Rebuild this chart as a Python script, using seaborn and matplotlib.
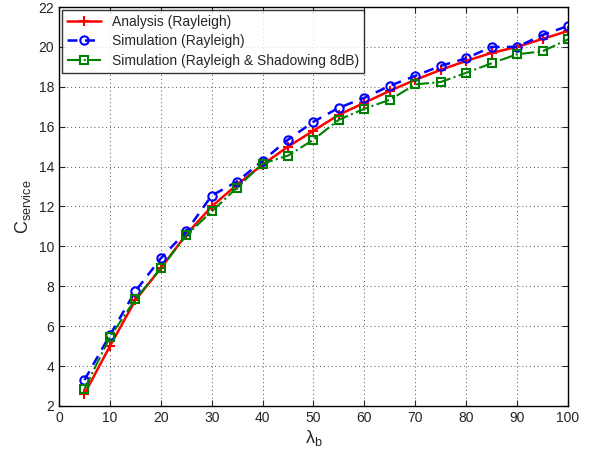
import numpy as np
import pandas as pd
import matplotlib
matplotlib.use('Agg')
import matplotlib.pyplot as plt
import seaborn as sns

# Werte
lambda_b = [5, 10, 15, 20, 25, 30, 35, 40, 45, 50, 55, 60, 65, 70, 75, 80, 85, 90, 95, 100]
analysis_rayleigh = [2.6, 5.0, 7.3, 8.9, 10.6, 12.0, 13.1, 14.1, 15.0, 15.8, 16.6, 17.2,
                     17.8, 18.35, 18.85, 19.3, 19.7, 20.0, 20.4, 20.8]
sim_rayleigh = [3.3, 5.55, 7.75, 9.4, 10.75, 12.55, 13.25, 14.3, 15.35, 16.25, 16.95, 17.45,
                18.05, 18.55, 19.05, 19.43, 20.0, 20.0, 20.6, 21.05]
sim_shadowing = [2.85, 5.45, 7.35, 8.9, 10.55, 11.75, 12.95, 14.15, 14.55, 15.35, 16.35, 16.9,
                 17.35, 18.12, 18.24, 18.7, 19.18, 19.63, 19.78, 20.38]

labels = ['Analysis (Rayleigh)', 'Simulation (Rayleigh)', 'Simulation (Rayleigh & Shadowing 8dB)']

sns.set_style('ticks')
plt.rcParams['font.family'] = ['Liberation Sans', 'DejaVu Sans']
plt.rcParams['mathtext.fontset'] = 'custom'
plt.rcParams['mathtext.rm'] = 'Liberation Sans'
plt.rcParams['mathtext.it'] = 'Liberation Sans:italic'

fig = plt.figure(figsize=(5.91, 4.49), dpi=100)
ax = fig.add_axes([0.0998, 0.0958, 0.8613, 0.8886])

df = pd.DataFrame({'x': lambda_b, 'a': analysis_rayleigh, 's': sim_rayleigh, 'g': sim_shadowing})

sns.lineplot(data=df, x='x', y='a', ax=ax, color='red', linestyle='-', linewidth=1.8,
             marker='+', markersize=7, markeredgecolor='red', markeredgewidth=1.5,
             label=labels[0])
sns.lineplot(data=df, x='x', y='s', ax=ax, color='blue', linestyle=(0, (4, 3)), linewidth=1.8,
             marker='o', markersize=6, markerfacecolor='none', markeredgecolor='blue',
             markeredgewidth=1.5, label=labels[1])
sns.lineplot(data=df, x='x', y='g', ax=ax, color='green', linestyle='-.', linewidth=1.5,
             marker='s', markersize=5.5, markerfacecolor='none', markeredgecolor='green',
             markeredgewidth=1.5, label=labels[2])

ax.set_xlim(0, 100)
ax.set_ylim(2, 22)
ax.set_xticks(np.arange(0, 101, 10))
ax.set_yticks(np.arange(2, 23, 2))
ax.tick_params(direction='in', top=True, right=True, labelsize=10, length=4, width=0.8)
ax.grid(True, linestyle=(0, (1, 3)), color='#555555', linewidth=0.7)
for sp in ax.spines.values():
    sp.set_linewidth(1.0)
    sp.set_color('black')

ax.set_xlabel('λ$_\\mathrm{b}$', fontsize=13, labelpad=2)
ax.set_ylabel(r'C$_{\mathrm{service}}$', fontsize=13, labelpad=4)

leg = ax.legend(loc='upper left', fontsize=10, frameon=True, fancybox=False,
                edgecolor='black', borderaxespad=0.2, handlelength=2.5,
                labelspacing=0.4, borderpad=0.35)
leg.get_frame().set_linewidth(1.0)

fig.savefig('out.png', dpi=100)
